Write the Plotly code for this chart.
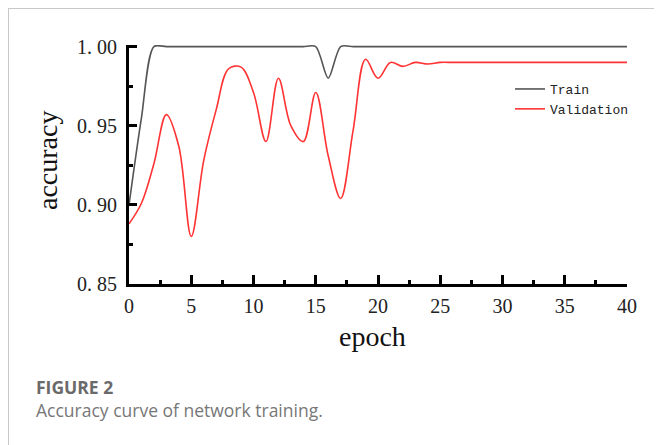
import plotly.graph_objects as go

# ---- data ----
epochs = list(range(0, 41))
train_acc = [0.900, 0.955, 1.000, 1.000, 1.000, 1.000, 1.000, 1.000, 1.000, 1.000,
             1.000, 1.000, 1.000, 1.000, 1.000, 1.000, 0.980, 1.000, 1.000, 1.000,
             1.000, 1.000, 1.000, 1.000, 1.000, 1.000, 1.000, 1.000, 1.000, 1.000,
             1.000, 1.000, 1.000, 1.000, 1.000, 1.000, 1.000, 1.000, 1.000, 1.000,
             1.000]
val_acc = [0.888, 0.901, 0.926, 0.957, 0.937, 0.880, 0.928, 0.960, 0.986, 0.987,
           0.971, 0.940, 0.980, 0.950, 0.940, 0.971, 0.931, 0.904, 0.947, 0.992,
           0.980, 0.990, 0.9875, 0.990, 0.989, 0.990, 0.990, 0.990, 0.990, 0.990,
           0.990, 0.990, 0.990, 0.990, 0.990, 0.990, 0.990, 0.990, 0.990, 0.990,
           0.990]
series_names = ["Train", "Validation"]
y_tickvals = [0.85, 0.90, 0.95, 1.00]
y_ticktext = ["0. 85", "0. 90", "0. 95", "1. 00"]
x_tickvals = [0, 5, 10, 15, 20, 25, 30, 35, 40]
x_label = "epoch"
y_label = "accuracy"
caption_head = "FIGURE 2"
caption_text = "Accuracy curve of network training."

# ---- layout geometry (page pixels; the page body has an 8px margin) ----
OFF = 8
FW, FH = 662 - OFF, 445 - OFF
PLOT_L, PLOT_R, PLOT_T, PLOT_B = 129, 627, 45, 284   # page coordinates
L = PLOT_L - OFF
T = PLOT_T - OFF
R = FW - (PLOT_R - OFF)
B = FH - (PLOT_B - OFF)
W = FW - L - R
H = FH - T - B


def px_x(p):
    return (p - OFF - L) / W


def px_y(p):
    return (FH - B - (p - OFF)) / H


fig = go.Figure()
fig.add_trace(go.Scatter(x=epochs, y=train_acc, mode="lines", name=series_names[0],
                         line=dict(color="#555555", width=1.6, shape="spline", smoothing=0.8)))
fig.add_trace(go.Scatter(x=epochs, y=val_acc, mode="lines", name=series_names[1],
                         line=dict(color="#ff3333", width=1.6, shape="spline", smoothing=1.0)))

serif = "Liberation Serif, Times New Roman, serif"

fig.update_layout(
    width=FW, height=FH,
    margin=dict(l=L, r=R, t=T, b=B, autoexpand=False),
    paper_bgcolor="white", plot_bgcolor="white",
    showlegend=True,
    legend=dict(x=px_x(510), y=px_y(74), xanchor="left", yanchor="top",
                bgcolor="rgba(0,0,0,0)", borderwidth=0,
                font=dict(family="Liberation Mono, DejaVu Sans Mono, monospace", size=13, color="#222"),
                itemwidth=30, tracegroupgap=0),
    xaxis=dict(range=[0, 40], tickmode="array", tickvals=x_tickvals,
               ticks="inside", ticklen=9, tickwidth=3, tickcolor="black",
               showline=True, linewidth=3, linecolor="black", showgrid=False, zeroline=False,
               tickfont=dict(family=serif, size=20, color="#222"), ticklabelstandoff=2,
               minor=dict(dtick=2.5, ticks="inside", ticklen=4, tickwidth=3, tickcolor="black", showgrid=False)),
    yaxis=dict(range=[0.85, 1.001], tickmode="array", tickvals=y_tickvals, ticktext=y_ticktext,
               ticks="inside", ticklen=8, tickwidth=3, tickcolor="black",
               showline=True, linewidth=3, linecolor="black", showgrid=False, zeroline=False,
               tickfont=dict(family=serif, size=20, color="#222"), ticklabelstandoff=5,
               minor=dict(dtick=0.025, tick0=0.85, ticks="inside", ticklen=4, tickwidth=3, tickcolor="black", showgrid=False)),
)

# axis titles
fig.add_annotation(x=px_x(372), y=px_y(336), xref="paper", yref="paper", text=x_label,
                   showarrow=False, xanchor="center", yanchor="middle",
                   font=dict(family=serif, size=28, color="#111"))
fig.add_annotation(x=px_x(47), y=px_y(161), xref="paper", yref="paper", text=y_label,
                   showarrow=False, xanchor="center", yanchor="middle", textangle=-90,
                   font=dict(family=serif, size=28, color="#111"))

# caption
fig.add_annotation(x=px_x(34), y=px_y(387), xref="paper", yref="paper", text="<b>" + caption_head + "</b>",
                   showarrow=False, xanchor="left", yanchor="middle",
                   font=dict(family="Open Sans, sans-serif", size=17.5, color="#6a6a6a"))
fig.add_annotation(x=px_x(34), y=px_y(410), xref="paper", yref="paper", text=caption_text,
                   showarrow=False, xanchor="left", yanchor="middle",
                   font=dict(family="Open Sans, sans-serif", size=17.5, color="#777777"))

# outer frame (top and left border)
fig.add_shape(type="line", xref="paper", yref="paper", x0=px_x(8), x1=px_x(662), y0=px_y(8.5), y1=px_y(8.5),
              line=dict(color="#c8c8c8", width=1))
fig.add_shape(type="line", xref="paper", yref="paper", x0=px_x(8.5), x1=px_x(8.5), y0=px_y(8), y1=px_y(445),
              line=dict(color="#c8c8c8", width=1))

fig.write_html("out.html")
